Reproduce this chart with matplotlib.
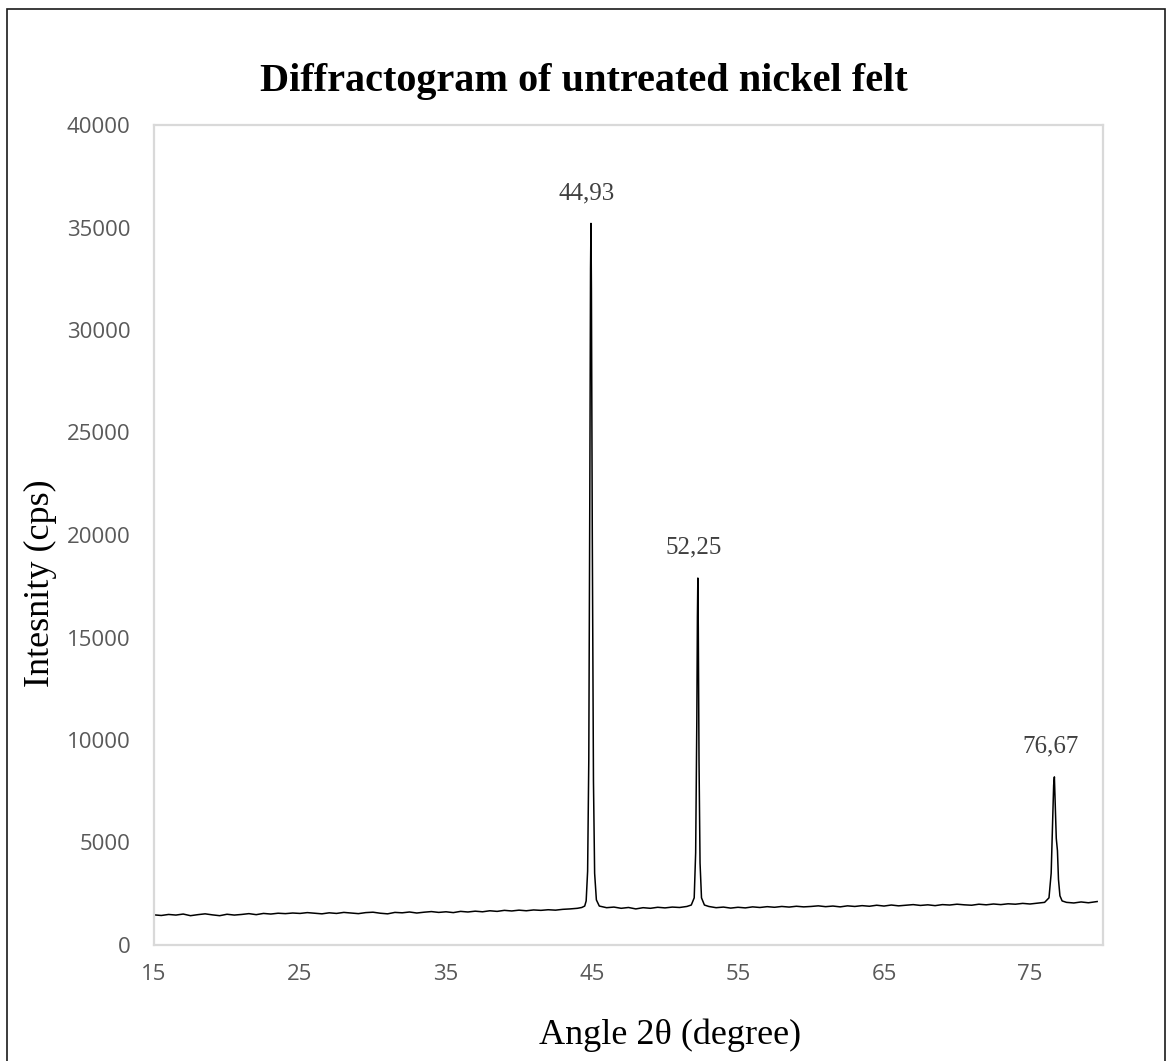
import matplotlib
matplotlib.use("Agg")
import matplotlib.pyplot as plt
from matplotlib.patches import Rectangle

# XRD scan of untreated nickel felt: 2-theta (degree) vs intensity (cps)
angle = [
    15.0, 15.5, 16.0, 16.5, 17.0, 17.5, 18.0, 18.5, 19.0, 19.5,
    20.0, 20.5, 21.0, 21.5, 22.0, 22.5, 23.0, 23.5, 24.0, 24.5,
    25.0, 25.5, 26.0, 26.5, 27.0, 27.5, 28.0, 28.5, 29.0, 29.5,
    30.0, 30.5, 31.0, 31.5, 32.0, 32.5, 33.0, 33.5, 34.0, 34.5,
    35.0, 35.5, 36.0, 36.5, 37.0, 37.5, 38.0, 38.5, 39.0, 39.5,
    40.0, 40.5, 41.0, 41.5, 42.0, 42.5, 43.0, 43.5, 44.0,
    44.3, 44.5, 44.6, 44.7, 44.78, 44.85, 44.9, 44.93, 44.96, 45.02,
    45.1, 45.18, 45.3, 45.5,
    46.0, 46.5, 47.0, 47.5, 48.0, 48.5, 49.0, 49.5, 50.0, 50.5,
    51.0, 51.5, 51.8,
    52.0, 52.1, 52.18, 52.22, 52.25, 52.28, 52.33, 52.4, 52.5, 52.7,
    53.0, 53.5, 54.0, 54.5, 55.0, 55.5, 56.0, 56.5, 57.0, 57.5,
    58.0, 58.5, 59.0, 59.5, 60.0, 60.5, 61.0, 61.5, 62.0, 62.5,
    63.0, 63.5, 64.0, 64.5, 65.0, 65.5, 66.0, 66.5, 67.0, 67.5,
    68.0, 68.5, 69.0, 69.5, 70.0, 70.5, 71.0, 71.5, 72.0, 72.5,
    73.0, 73.5, 74.0, 74.5, 75.0, 75.5, 76.0,
    76.3, 76.45, 76.55, 76.62, 76.67, 76.72, 76.8, 76.88, 76.95, 77.05,
    77.2, 77.5, 78.0, 78.5, 79.0, 79.6,
]
intensity = [
    1470, 1440, 1490, 1460, 1510, 1430, 1480, 1520, 1470, 1430,
    1500, 1460, 1490, 1530, 1480, 1540, 1510, 1550, 1530, 1560,
    1540, 1580, 1550, 1520, 1570, 1540, 1590, 1560, 1530, 1580,
    1600, 1550, 1520, 1590, 1570, 1610, 1560, 1600, 1630, 1590,
    1620, 1580, 1640, 1610, 1650, 1620, 1670, 1640, 1690, 1660,
    1700, 1670, 1710, 1690, 1720, 1700, 1740, 1760, 1790,
    1830, 1900, 2150, 3600, 9000, 22000, 33000, 35200, 32000, 20000,
    8000, 3500, 2200, 1900,
    1820, 1850, 1790, 1830, 1760, 1820, 1790, 1840, 1810, 1850,
    1830, 1880, 1950,
    2300, 4500, 11000, 16000, 17900, 15500, 9000, 4000, 2300, 1950,
    1880, 1820, 1850, 1800, 1840, 1810, 1860, 1830, 1870, 1840,
    1880, 1850, 1890, 1860, 1880, 1910, 1870, 1900, 1860, 1910,
    1880, 1920, 1890, 1940, 1900, 1950, 1910, 1940, 1970, 1930,
    1960, 1920, 1970, 1950, 1990, 1960, 1940, 1990, 1960, 2000,
    1970, 2010, 1990, 2030, 2000, 2040, 2080,
    2300, 3500, 6000, 7800, 8200, 7000, 5200, 4600, 3200, 2400,
    2150, 2080, 2050, 2100, 2060, 2120,
]

# Labelled reflections
peak_angle = [44.93, 52.25, 76.67]
peak_height = [35200, 17900, 8200]
peak_text = ["44,93", "52,25", "76,67"]

x_ticks = [15, 25, 35, 45, 55, 65, 75]
y_ticks = [0, 5000, 10000, 15000, 20000, 25000, 30000, 35000, 40000]

W, H = 1168, 1061
fig = plt.figure(figsize=(W / 100, H / 100), dpi=100)
ax = fig.add_axes([154 / W, 1 - 945 / H, (1103 - 154) / W, (945 - 125) / H])

ax.plot(angle, intensity, color="black", lw=1.1)

for a, h, t in zip(peak_angle, peak_height, peak_text):
    ax.annotate(t, xy=(a, h), xytext=(-3, 14), textcoords="offset points",
                ha="center", va="bottom", fontsize=18, color="#404040",
                family="Liberation Serif")

ax.set_xlim(15, 80)
ax.set_ylim(0, 40000)
ax.set_xticks(x_ticks)
ax.set_yticks(y_ticks)
ax.tick_params(length=0, labelsize=16, labelcolor="#595959")
ax.tick_params(axis="y", pad=17)
ax.tick_params(axis="x", pad=14)
for lab in ax.get_xticklabels() + ax.get_yticklabels():
    lab.set_family("Open Sans")

for s in ax.spines.values():
    s.set_color("#d9d9d9")
    s.set_linewidth(1.6)

fig.text(584 / W, 1 - 82 / H, "Diffractogram of untreated nickel felt",
         ha="center", va="center", fontsize=29, fontweight="bold",
         family="Liberation Serif", color="black")
fig.text(40 / W, 1 - 583 / H, "Intesnity (cps)", rotation=90,
         ha="center", va="center", fontsize=26,
         family="Liberation Serif", color="black")
fig.text(670 / W, 1 - 1035 / H, "Angle 2θ (degree)",
         ha="center", va="center", fontsize=26,
         family="Liberation Serif", color="black")

# chart border
fig.add_artist(Rectangle((7 / W, -0.02), (1165 - 7) / W, 1 - 9 / H + 0.02,
                         transform=fig.transFigure, fill=False,
                         edgecolor="#1a1a1a", lw=1.2))

fig.savefig("out.png", dpi=100, facecolor="white")
